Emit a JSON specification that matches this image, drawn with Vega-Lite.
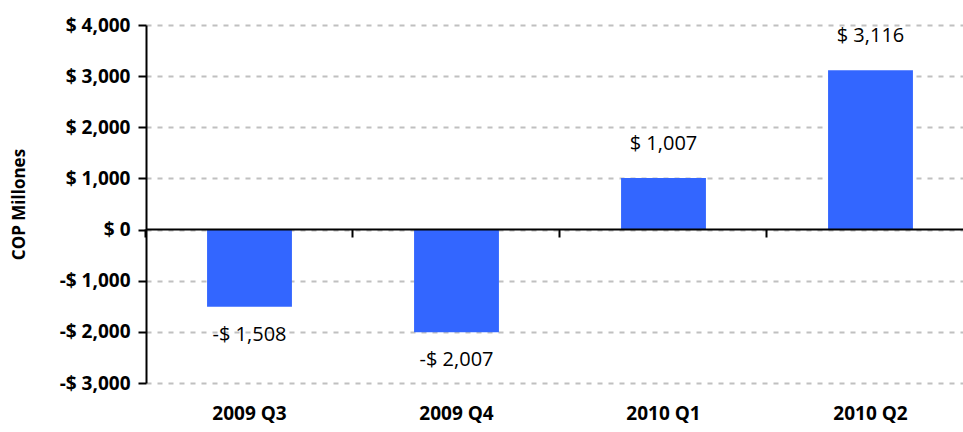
{
  "$schema": "https://vega.github.io/schema/vega-lite/v6.json",
  "autosize": "none",
  "width": 828,
  "height": 358,
  "padding": {"left": 146, "top": 25, "right": 0, "bottom": 49},
  "background": "white",
  "config": {
    "view": {"stroke": null},
    "font": "Open Sans"
  },
  "data": {
    "values": [
      {"quarter": "2009 Q3", "value": -1508, "label": "-$ 1,508"},
      {"quarter": "2009 Q4", "value": -2007, "label": "-$ 2,007"},
      {"quarter": "2010 Q1", "value": 1007, "label": "$ 1,007"},
      {"quarter": "2010 Q2", "value": 3116, "label": "$ 3,116"}
    ]
  },
  "resolve": {"axis": {"x": "independent"}},
  "layer": [
    {
      "mark": {"type": "rule", "color": "black", "strokeWidth": 2},
      "encoding": {
        "x": {
          "field": "quarter",
          "type": "nominal",
          "sort": null,
          "scale": {"paddingInner": 0.59, "paddingOuter": 0.295},
          "axis": {
            "title": null,
            "orient": "bottom",
            "offset": -154,
            "domain": true,
            "domainColor": "black",
            "domainWidth": 2,
            "ticks": true,
            "bandPosition": -0.72,
            "tickColor": "black",
            "tickWidth": 2,
            "tickSize": 8,
            "labels": false,
            "grid": false,
            "zindex": 1
          }
        },
        "y": {"datum": 0, "type": "quantitative"},
        "strokeOpacity": {"value": 0}
      }
    },
    {
      "encoding": {
        "x": {
          "field": "quarter",
          "type": "nominal",
          "sort": null,
          "axis": {
            "title": null,
            "orient": "bottom",
            "domain": false,
            "ticks": false,
            "labelPadding": 21,
            "labelAngle": 0,
            "labelFont": "Open Sans",
            "labelFontWeight": "bold",
            "labelFontSize": 19,
            "labelColor": "black",
            "grid": false
          }
        },
        "y": {
          "field": "value",
          "type": "quantitative",
          "scale": {"domain": [-3000, 4000], "nice": false, "zero": false},
          "axis": {
            "title": "COP Millones",
            "titleFont": "Open Sans",
            "titleFontSize": 17,
            "titleFontWeight": "bold",
            "titleColor": "black",
            "titlePadding": 31,
            "values": [-3000, -2000, -1000, 0, 1000, 2000, 3000, 4000],
            "labelExpr": "datum.value < 0 ? '-$ ' + format(-datum.value, ',') : '$ ' + format(datum.value, ',')",
            "labelFont": "Open Sans",
            "labelFontSize": 19,
            "labelFontWeight": "bold",
            "labelColor": "black",
            "labelPadding": 8,
            "domainColor": "black",
            "domainWidth": 2,
            "tickColor": "black",
            "tickWidth": 2,
            "tickSize": 8,
            "grid": true,
            "gridColor": "#c0c0c0",
            "gridDash": [5, 6],
            "gridWidth": 2
          }
        }
      },
      "layer": [
        {
          "mark": {"type": "bar", "color": "#3366FF"}
        },
        {
          "transform": [{"filter": "datum.value > 0"}],
          "mark": {"type": "text", "dy": -34, "baseline": "middle", "fontSize": 20, "color": "black", "font": "Open Sans"},
          "encoding": {"text": {"field": "label"}}
        },
        {
          "transform": [{"filter": "datum.value < 0"}],
          "mark": {"type": "text", "dy": 28, "baseline": "middle", "fontSize": 20, "color": "black", "font": "Open Sans"},
          "encoding": {"text": {"field": "label"}}
        }
      ]
    }
  ]
}
